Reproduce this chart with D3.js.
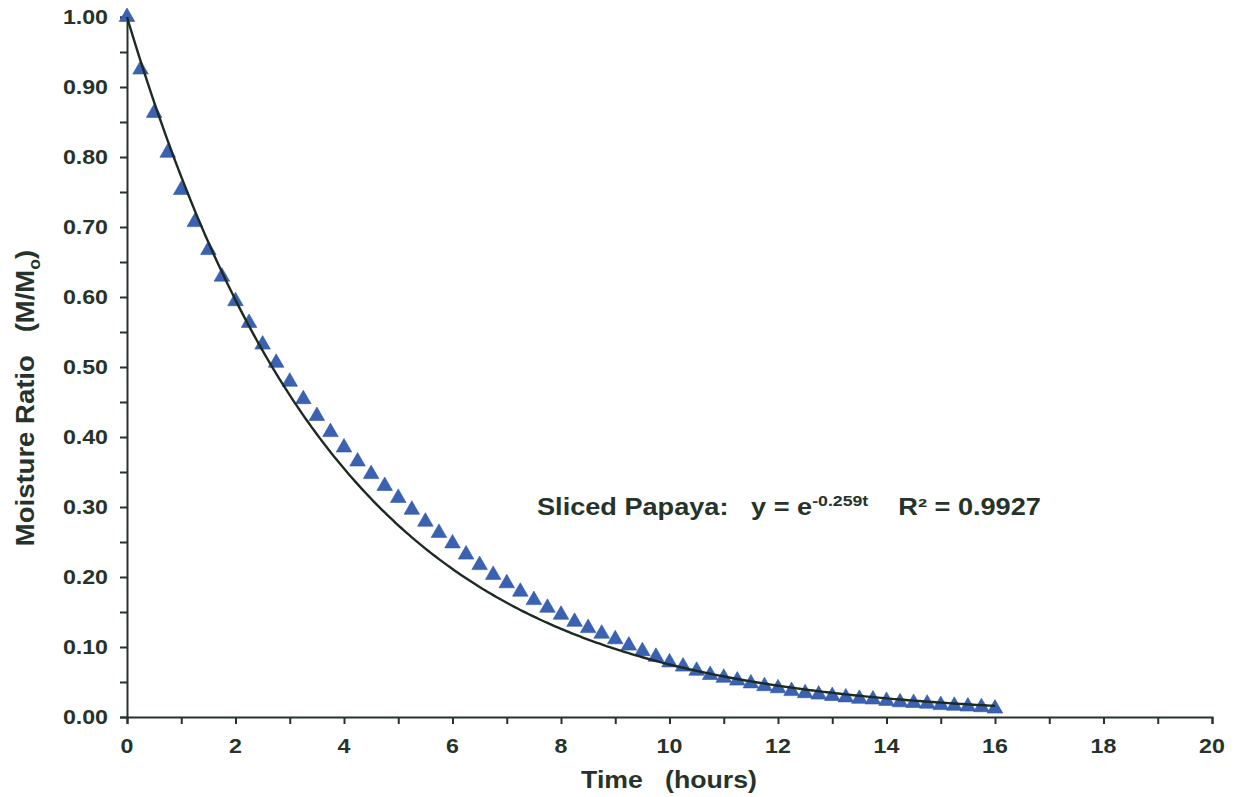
<!DOCTYPE html>
<html>
<head>
<meta charset="utf-8">
<script src="https://cdn.jsdelivr.net/npm/d3@7"></script>
<style>
  body { margin: 0; background: #fff; }
  svg text { font-family: "Liberation Sans", Arial, sans-serif; font-weight: bold; fill: #26332b; }
</style>
</head>
<body>
<svg class="chart" width="1234" height="797"></svg>
<script>
// measured points, every 0.25 h
const times = d3.range(0, 16.001, 0.25); // sample times only
const moisture = [
  1.000, 0.925, 0.863, 0.806, 0.753, 0.707, 0.667, 0.629, 0.594,
  0.563, 0.532, 0.506, 0.479, 0.454, 0.430, 0.407, 0.385,
  0.365, 0.347, 0.330, 0.313, 0.296, 0.279, 0.263, 0.248,
  0.232, 0.217, 0.203, 0.191, 0.179, 0.167, 0.156, 0.146,
  0.136, 0.127, 0.119, 0.111, 0.102, 0.094, 0.086, 0.078,
  0.072, 0.066, 0.060, 0.056, 0.052, 0.048, 0.044, 0.041,
  0.037, 0.034, 0.032, 0.030, 0.028, 0.026, 0.025, 0.023,
  0.021, 0.020, 0.019, 0.017, 0.016, 0.015, 0.014, 0.012
];
// fitted model y = exp(-k t)
const fitK = 0.259;
const fitR2 = "0.9927";
const xTicks = [0, 2, 4, 6, 8, 10, 12, 14, 16, 18, 20];
const yTicks = [0, 0.1, 0.2, 0.3, 0.4, 0.5, 0.6, 0.7, 0.8, 0.9, 1.0];

const points = times.map((t, i) => ({ t: t, m: moisture[i] }));
const fitLine = d3.range(0, 16.001, 0.05).map(t => ({ t: t, m: Math.exp(-fitK * t) }));

const ink = '#26332b';
const svg = d3.select('svg.chart');

let x = d3.scaleLinear().domain([0, 20]).range([127, 1212]);
let y = d3.scaleLinear().domain([0, 1]).range([717, 17]);

// the scanned labels are a bit wider than plain Arial
const stretch = 1.16;

/***** Axes *****/
// minor ticks (every 1 h / every 0.05)
let xAxis = svg.append('g').attr('transform', 'translate(0,717)')
  .call(d3.axisBottom(x).ticks(20).tickSize(7).tickFormat(''));
let yAxis = svg.append('g').attr('transform', 'translate(127,0)')
  .call(d3.axisLeft(y).ticks(20).tickSize(7).tickFormat(''));
[xAxis, yAxis].forEach(g => {
  g.select('.domain').attr('stroke', ink).attr('stroke-width', 2);
  g.selectAll('.tick line').attr('stroke', ink).attr('stroke-width', 2);
});

// labels
svg.append('g').selectAll('text')
  .data(xTicks).join('text')
  .attr('transform', d => `translate(${x(d)},753) scale(${stretch},1)`)
  .attr('text-anchor', 'middle')
  .style('font-size', '20px')
  .text(d => d);

svg.append('g').selectAll('text')
  .data(yTicks).join('text')
  .attr('transform', d => `translate(108,${y(d) + 7}) scale(${stretch},1)`)
  .attr('text-anchor', 'end')
  .style('font-size', '20px')
  .text(d => d3.format('.2f')(d));

// axis titles
svg.append('text')
  .attr('transform', `translate(669,788) scale(${stretch},1)`)
  .attr('text-anchor', 'middle')
  .style('font-size', '23px')
  .attr('xml:space', 'preserve')
  .text('Time   (hours)');

let yTitle = svg.append('text')
  .attr('transform', 'translate(34,398) rotate(-90) scale(1.1,1)')
  .attr('text-anchor', 'middle')
  .style('font-size', '25px')
  .attr('xml:space', 'preserve');
yTitle.append('tspan').text('Moisture Ratio   (M/M');
yTitle.append('tspan').attr('dy', 6).style('font-size', '16px').text('o');
yTitle.append('tspan').attr('dy', -6).text(')');

/***** Data *****/
svg.append('g').selectAll('path')
  .data(points).join('path')
  .attr('d', d3.symbol(d3.symbolTriangle, 105))
  .attr('transform', d => `translate(${x(d.t)},${y(d.m)})`)
  .attr('fill', '#3b62b2')
  .attr('stroke', '#2f55a3')
  .attr('stroke-width', 0.6);

svg.append('path')
  .datum(fitLine)
  .attr('fill', 'none')
  .attr('stroke', '#1d2a22')
  .attr('stroke-width', 2.4)
  .attr('d', d3.line().x(d => x(d.t)).y(d => y(d.m)));

/***** Equation label *****/
let eq = svg.append('text')
  .attr('transform', `translate(537,515) scale(1.18,1)`)
  .style('font-size', '23px')
  .attr('xml:space', 'preserve');
eq.append('tspan').text('Sliced Papaya:   y = e');
eq.append('tspan').attr('dy', -9).style('font-size', '15px').text('-' + fitK + 't');
eq.append('tspan').attr('dy', 9).text('    R² = ' + fitR2);
</script>
</body>
</html>
